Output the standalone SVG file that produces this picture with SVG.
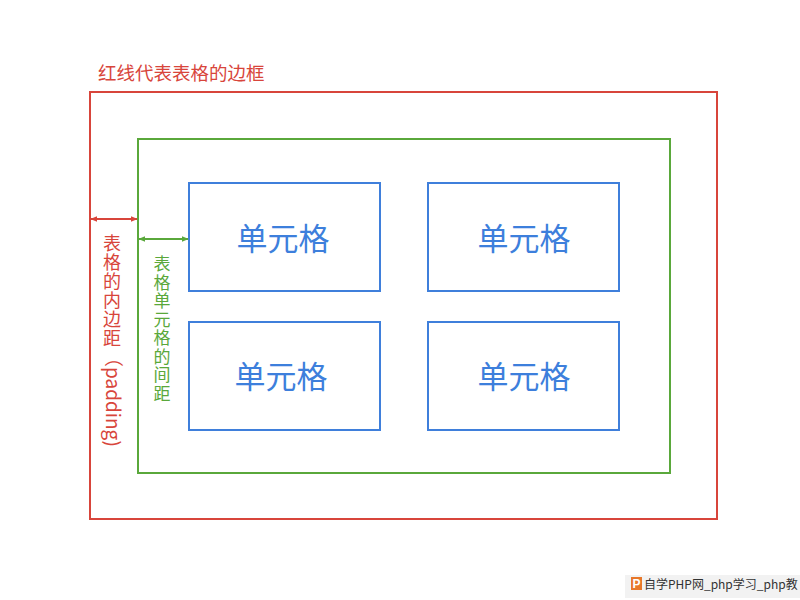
<svg xmlns="http://www.w3.org/2000/svg" width="800" height="600" viewBox="0 0 800 600">
<defs>
<style>
.cjk{font-family:"PingFang SC","Noto Sans CJK SC",sans-serif;}
.red{fill:#d8453b;}
.green{fill:#5aa83b;}
.box{fill:none;stroke-width:2;}
.cell rect{fill:none;stroke:#3f7fdb;stroke-width:2;}
.cell text{font-family:"PingFang SC","Noto Sans CJK SC",sans-serif;font-size:31px;fill:#3d7fdc;text-anchor:middle;}
.vred{font-size:18px;text-anchor:middle;}
.vgreen{font-size:17px;text-anchor:middle;}
</style>
<marker id="ar" viewBox="0 0 10 10" refX="9" refY="5" markerWidth="7" markerHeight="7" markerUnits="userSpaceOnUse" orient="auto-start-reverse"><path d="M0,1 L10,5 L0,9 z" fill="#d8453b"/></marker>
<marker id="ag" viewBox="0 0 10 10" refX="9" refY="5" markerWidth="7" markerHeight="7" markerUnits="userSpaceOnUse" orient="auto-start-reverse"><path d="M0,1 L10,5 L0,9 z" fill="#5aa83b"/></marker>
</defs>
<rect width="800" height="600" fill="#ffffff"/>
<g id="table-border">
<text class="cjk red" x="98" y="80" font-size="18.5">红线代表表格的边框</text>
<rect class="box" x="90" y="92" width="627" height="427" stroke="#d8453b"/>
</g>
<g id="cell-area">
<rect class="box" x="138" y="139" width="532" height="334" stroke="#5aa83b"/>
</g>
<g id="cell1" class="cell"><rect x="189" y="183" width="191" height="108"/><text x="283" y="250">单元格</text></g>
<g id="cell2" class="cell"><rect x="428" y="183" width="191" height="108"/><text x="524" y="250">单元格</text></g>
<g id="cell3" class="cell"><rect x="189" y="322" width="191" height="108"/><text x="281" y="388">单元格</text></g>
<g id="cell4" class="cell"><rect x="428" y="322" width="191" height="108"/><text x="524" y="388">单元格</text></g>
<g id="connectors">
<line x1="91" y1="219" x2="137" y2="219" stroke="#d8453b" stroke-width="2" marker-start="url(#ar)" marker-end="url(#ar)"/>
<line x1="139" y1="239" x2="188" y2="239" stroke="#5aa83b" stroke-width="2" marker-start="url(#ag)" marker-end="url(#ag)"/>
</g>
<g id="padding-label" class="cjk red">
<text class="vred" x="112" y="250">表</text>
<text class="vred" x="112" y="269">格</text>
<text class="vred" x="112" y="288">的</text>
<text class="vred" x="112" y="307">内</text>
<text class="vred" x="112" y="326">边</text>
<text class="vred" x="112" y="345">距</text>
<text font-size="19" transform="translate(106,348) rotate(90)">（padding)</text>
</g>
<g id="spacing-label" class="cjk green">
<text class="vgreen" x="162" y="270">表</text>
<text class="vgreen" x="162" y="289">格</text>
<text class="vgreen" x="162" y="307">单</text>
<text class="vgreen" x="162" y="326">元</text>
<text class="vgreen" x="162" y="344">格</text>
<text class="vgreen" x="162" y="363">的</text>
<text class="vgreen" x="162" y="381">间</text>
<text class="vgreen" x="162" y="400">距</text>
</g>
<g id="watermark">
<rect x="625" y="575" width="175" height="23" fill="#f2f2f2"/>
<rect x="631" y="577" width="11" height="13" fill="#e8782a"/>
<text x="636.5" y="588" font-family="Liberation Sans, sans-serif" font-weight="bold" font-size="12" fill="#ffffff" text-anchor="middle">P</text>
<text class="cjk" x="644" y="589" font-size="12" fill="#333333">自学PHP网_php学习_php教</text>
</g>
</svg>
